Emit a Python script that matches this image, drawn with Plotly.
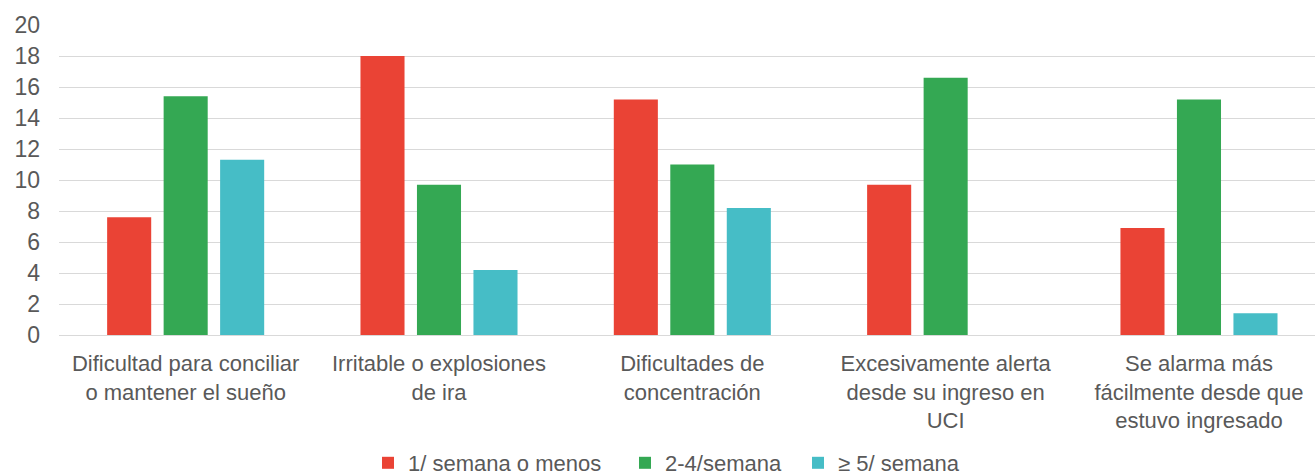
import plotly.graph_objects as go

# Symptom categories (x axis) and weekly-frequency series
categories = [
    "Dificultad para conciliar<br>o mantener el sueño",
    "Irritable o explosiones<br>de ira",
    "Dificultades de<br>concentración",
    "Excesivamente alerta<br>desde su ingreso en<br>UCI",
    "Se alarma más<br>fácilmente desde que<br>estuvo ingresado",
]
series_names = ["1/ semana o menos", "2-4/semana", "≥ 5/ semana"]
once_or_less = [7.6, 18.0, 15.2, 9.7, 6.9]
two_to_four = [15.4, 9.7, 11.0, 16.6, 15.2]
five_or_more = [11.3, 4.2, 8.2, None, 1.4]
y_ticks = [0, 2, 4, 6, 8, 10, 12, 14, 16, 18, 20]

colors = ["#EA4335", "#34A853", "#46BDC6"]
font_family = "Liberation Sans, Arial, sans-serif"
text_color = "#595959"
W, H = 1315, 475

fig = go.Figure()
legend_ids = ["legend", "legend2", "legend3"]
for name, vals, col, lg in zip(series_names, [once_or_less, two_to_four, five_or_more], colors, legend_ids):
    fig.add_trace(go.Bar(
        x=categories, y=vals, name=name,
        marker=dict(color=col, line=dict(width=0)),
        legend=lg,
    ))

# One legend box per series so each entry can sit at its own spot
legend_left_px = [368, 625, 798]
legend_center_y_px = 463
common_legend = dict(
    orientation="h", xref="container", yref="container",
    xanchor="left", yanchor="middle",
    y=1 - legend_center_y_px / H,
    font=dict(family=font_family, size=22, color=text_color),
    bgcolor="rgba(0,0,0,0)", borderwidth=0,
    itemwidth=30,
)
fig.update_layout(
    legend=dict(common_legend, x=legend_left_px[0] / W),
    legend2=dict(common_legend, x=legend_left_px[1] / W),
    legend3=dict(common_legend, x=legend_left_px[2] / W),
)

fig.update_layout(
    width=W, height=H,
    margin=dict(l=59, r=0, t=25, b=140),
    paper_bgcolor="white", plot_bgcolor="white",
    barmode="group", bargap=0.331, bargroupgap=0.22,
    font=dict(family=font_family, color=text_color),
    showlegend=True,
)
fig.update_xaxes(
    type="category", range=[-0.5, 4.458],
    showgrid=False, showline=False, zeroline=False,
    ticks="", tickfont=dict(size=22, color=text_color),
    ticklabelstandoff=13,
)
fig.update_yaxes(
    range=[0, 20], tickvals=y_ticks,
    showgrid=True, gridcolor="#D9D9D9", gridwidth=1.4,
    zeroline=True, zerolinecolor="#D9D9D9", zerolinewidth=1.4,
    showline=False, ticks="",
    tickfont=dict(size=23, color=text_color),
    ticklabelstandoff=18,
)

fig.write_html("out.html")
